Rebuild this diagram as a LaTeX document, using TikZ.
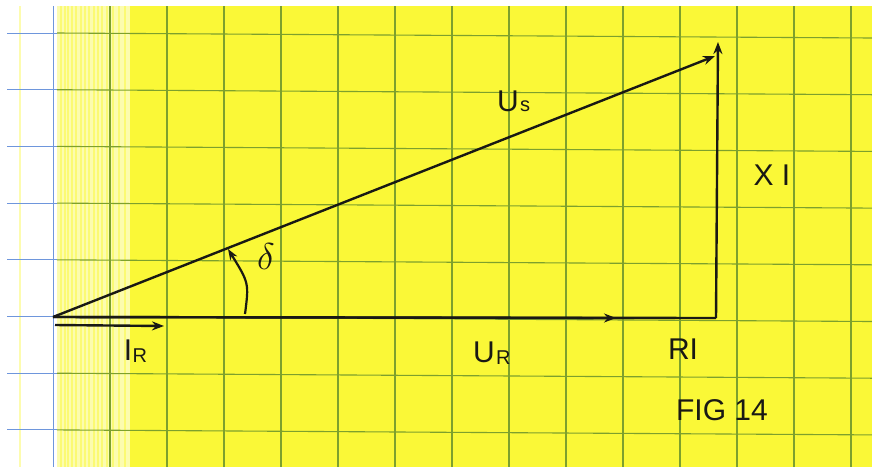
\documentclass[tikz,border=0pt]{standalone}
\usepackage{fontspec}
\setmainfont{Liberation Sans}
\usetikzlibrary{arrows.meta}
\definecolor{paper}{RGB}{250,248,55}
\definecolor{palepaper}{RGB}{252,252,175}
\definecolor{gridg}{RGB}{125,160,45}
\definecolor{gridb}{RGB}{110,150,220}
\definecolor{ink}{RGB}{25,25,20}
\tikzset{
  vec/.style={draw=ink, line width=2.4pt, -{Stealth[length=12pt,width=9pt]}},
  seg/.style={draw=ink, line width=2.4pt},
  lbl/.style={text=ink, font=\fontsize{30}{34}\selectfont, inner sep=0pt},
  sublbl/.style={text=ink, font=\fontsize{20}{24}\selectfont, inner sep=0pt},
}
\begin{document}
\begin{tikzpicture}[x=1pt,y=-1pt]
\useasboundingbox (0,0) rectangle (872,467);
% paper
\fill[white] (0,0) rectangle (872,467);
\fill[paper] (57,6) rectangle (872,467);
\fill[palepaper] (57,6) rectangle (130,467);
\foreach \x in {60,64,67,71,75,80,84,88,93,97,101,106,112,118,124}
  \fill[paper!70!white] (\x,6) rectangle ++(2.2,461);
\fill[white] (0,0) rectangle (872,6);
\fill[white] (0,6) rectangle (7,467);
\draw[paper!40!white, line width=1.2pt] (20,6) -- (20,467);
% grid
\foreach \k in {0,...,7} {
  \pgfmathsetmacro{\yy}{33+56.7*\k}
  \draw[gridb, line width=1pt] (7,\yy) -- (57,\yy);
  \draw[gridg, line width=1.1pt] (57,\yy) -- (872,\yy+5);
}
\draw[gridb, line width=1pt] (53,6) -- (53,467);
\foreach \k in {1,...,14} {
  \pgfmathsetmacro{\xx}{53+57*\k}
  \draw[gridg, line width=1.1pt] (\xx,6) -- (\xx,467);
}
% points
\coordinate (O) at (53,317);
\coordinate (URtip) at (616,318);
\coordinate (C) at (716,318);
\coordinate (T) at (718,42);
\coordinate (UStip) at (715,56);
\coordinate (IRs) at (55,325);
\coordinate (IRe) at (164,326);
\coordinate (Ds) at (245,314);
\coordinate (De) at (228,249);
% vectors
\draw[vec] (O) -- (UStip);
\draw[seg] (O) -- (C);
\draw[vec] (O) -- (URtip);
\draw[vec] (C) -- (T);
\draw[vec] (IRs) -- (IRe);
\draw[draw=ink, line width=2.2pt, -{Stealth[length=11pt,width=8pt]}] (Ds) .. controls (249,283) .. (De);
% labels
\node[lbl] (us) at (508,101) {U};
\node[sublbl, anchor=west] (uss) at ([xshift=1pt,yshift=-5pt]us.east) {s};
\node[lbl] (xi) at (772,175) {X I};
\node[lbl, scale=1.5] (delta) at (266,257) {$\delta$};
\node[lbl] (ir) at (128,350) {I};
\node[sublbl, anchor=west] (irs) at ([xshift=0pt,yshift=-6pt]ir.east) {R};
\node[lbl] (ur) at (484,352) {U};
\node[sublbl, anchor=west] (urs) at ([xshift=1pt,yshift=-6pt]ur.east) {R};
\node[lbl] (ri) at (683,349) {RI};
\node[lbl] (fig) at (722,410) {FIG 14};
\end{tikzpicture}
\end{document}
